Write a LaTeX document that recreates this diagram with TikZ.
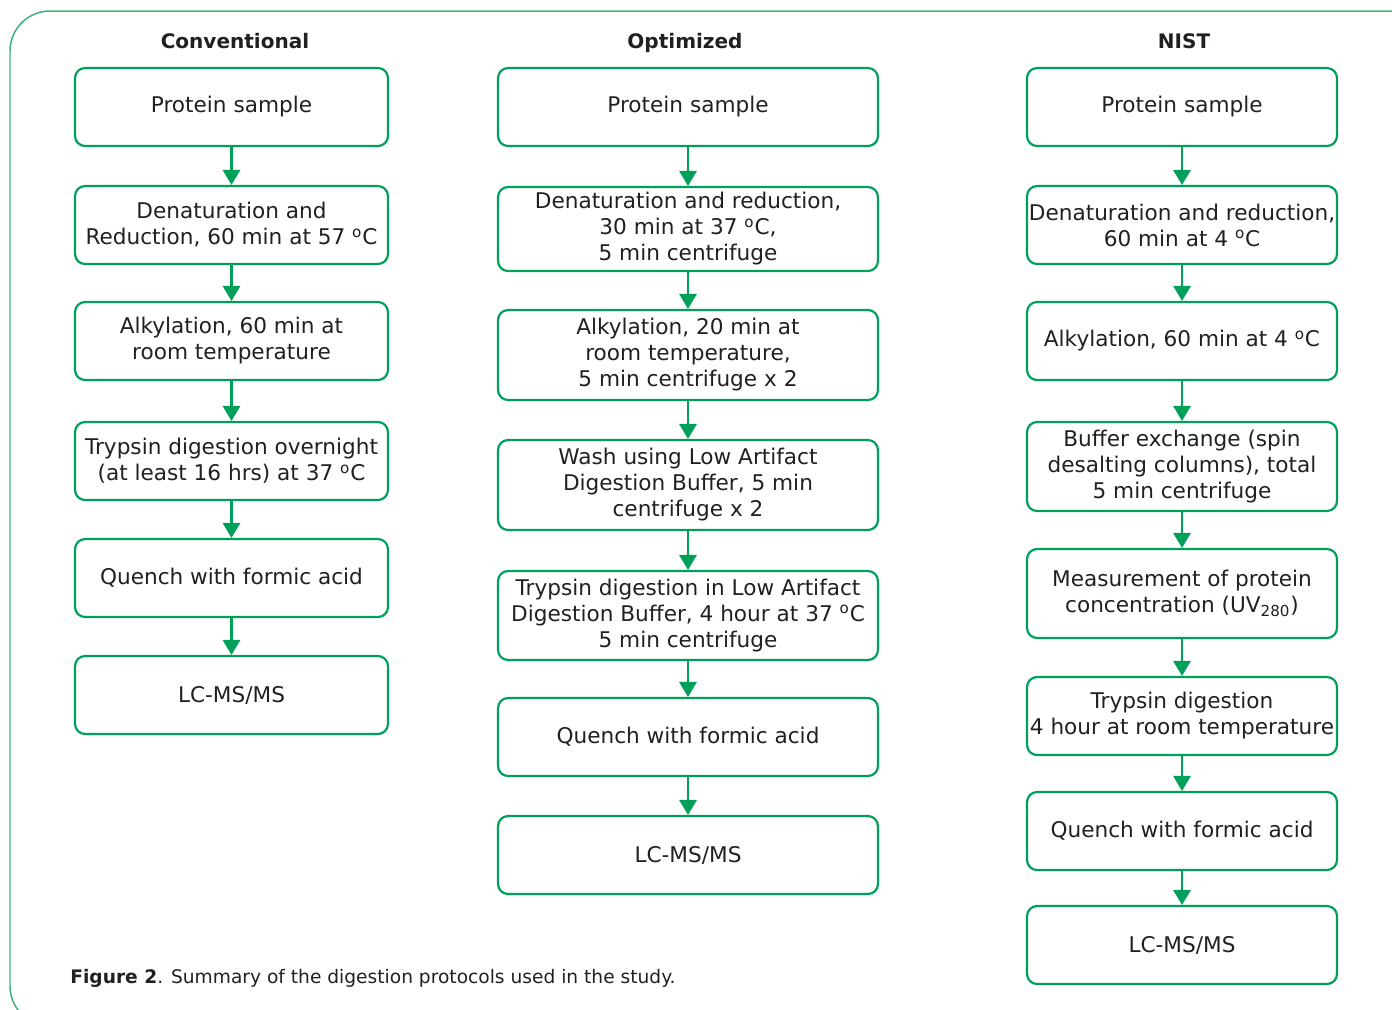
\documentclass[tikz,border=0pt]{standalone}
\usepackage{fontspec}
\setmainfont{DejaVu Sans}
\usetikzlibrary{arrows.meta}
\definecolor{flowgreen}{HTML}{00A05A}
\definecolor{framegreen}{HTML}{3DB37A}
\definecolor{inkgray}{HTML}{231F20}
\newcommand{\ordC}{\textsuperscript{o}C}

\begin{document}
\begin{tikzpicture}[x=0.02cm,y=-0.02cm,
  box/.style={draw=flowgreen,line width=1.25pt,rounded corners=0.2cm,align=center,
    text=inkgray,font=\fontsize{12.3}{14.8}\selectfont,inner sep=0pt},
  convbox/.style={box,minimum width=6.26cm,minimum height=1.56cm},
  optbox/.style={box,minimum width=7.6cm,minimum height=1.56cm},
  nistbox/.style={box,minimum width=6.2cm,minimum height=1.56cm},
  head/.style={anchor=base,text=inkgray,font=\fontsize{11.4}{14}\selectfont\bfseries},
  flow/.style={draw=flowgreen,line width=1.3pt,-{Triangle[width=9.8pt,length=8.5pt]}}]
  \useasboundingbox (0,0) rectangle (1392,1009);
  \draw[framegreen,line width=0.85pt,rounded corners=0.8cm] (10,11) rectangle (1430,1026);

  % column titles
  \node[head] (hconv) at (235,48) {Conventional};
  \node[head] (hopt) at (685,48) {Optimized};
  \node[head] (hnist) at (1184,48) {NIST};

  % conventional
  \node[convbox] (conv1) at (231.5,107) {Protein sample};
  \node[convbox] (conv2) at (231.5,225) {Denaturation and\\Reduction, 60 min at 57 \ordC};
  \node[convbox] (conv3) at (231.5,341) {Alkylation, 60 min at\\room temperature};
  \node[convbox] (conv4) at (231.5,461) {Trypsin digestion overnight\\(at least 16 hrs) at 37 \ordC};
  \node[convbox] (conv5) at (231.5,578) {Quench with formic acid};
  \node[convbox] (conv6) at (231.5,695) {LC-MS/MS};

  % optimized
  \node[optbox] (opt1) at (688,107) {Protein sample};
  \node[optbox,minimum height=1.68cm] (opt2) at (688,229) {Denaturation and reduction,\\30 min at 37 \ordC,\\5 min centrifuge};
  \node[optbox,minimum height=1.8cm] (opt3) at (688,355) {Alkylation, 20 min at\\room temperature,\\5 min centrifuge x 2};
  \node[optbox,minimum height=1.8cm] (opt4) at (688,485) {Wash using Low Artifact\\Digestion Buffer, 5 min\\centrifuge x 2};
  \node[optbox,minimum height=1.78cm] (opt5) at (688,615.5) {Trypsin digestion in Low Artifact\\Digestion Buffer, 4 hour at 37 \ordC\\5 min centrifuge};
  \node[optbox] (opt6) at (688,737) {Quench with formic acid};
  \node[optbox] (opt7) at (688,855) {LC-MS/MS};

  % NIST
  \node[nistbox] (nist1) at (1182,107) {Protein sample};
  \node[nistbox] (nist2) at (1182,225) {Denaturation and reduction,\\60 min at 4 \ordC};
  \node[nistbox] (nist3) at (1182,341) {Alkylation, 60 min at 4 \ordC};
  \node[nistbox,minimum height=1.78cm] (nist4) at (1182,466.5) {Buffer exchange (spin\\desalting columns), total\\5 min centrifuge};
  \node[nistbox,minimum height=1.78cm] (nist5) at (1182,593.5) {Measurement of protein\\concentration (UV\textsubscript{280})};
  \node[nistbox] (nist6) at (1182,716) {Trypsin digestion\\4 hour at room temperature};
  \node[nistbox] (nist7) at (1182,831) {Quench with formic acid};
  \node[nistbox] (nist8) at (1182,945) {LC-MS/MS};

  \foreach \a/\b in {conv1/conv2,conv2/conv3,conv3/conv4,conv4/conv5,conv5/conv6,
      opt1/opt2,opt2/opt3,opt3/opt4,opt4/opt5,opt5/opt6,opt6/opt7,
      nist1/nist2,nist2/nist3,nist3/nist4,nist4/nist5,nist5/nist6,nist6/nist7,nist7/nist8}
    \draw[flow] (\a) -- (\b);

  \node[anchor=west,inner sep=0pt,text=inkgray,font=\fontsize{10.6}{12}\selectfont] (caption) at (70,978)
    {\textbf{Figure 2}. Summary of the digestion protocols used in the study.};
\end{tikzpicture}
\end{document}
